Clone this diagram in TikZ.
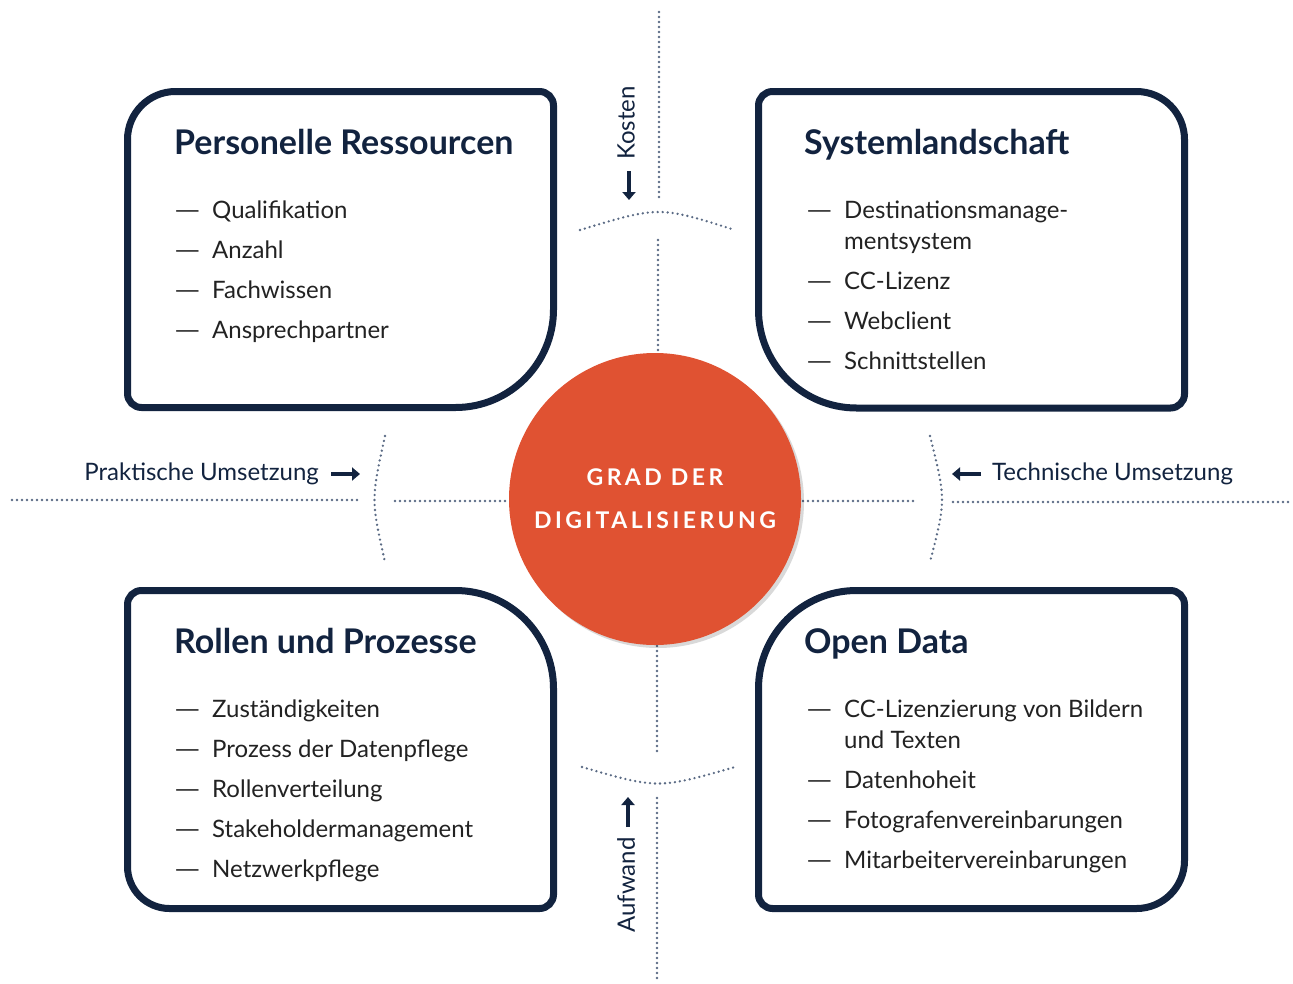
\documentclass[tikz,border=0pt]{standalone}
\usepackage{fontspec}
\usepackage{graphicx}
\setmainfont{Lato}
\newfontfamily\spacedfont[LetterSpace=15]{Lato}
\usetikzlibrary{arrows.meta,shadows}
\definecolor{navy}{HTML}{12233F}
\definecolor{ink}{HTML}{222222}
\definecolor{dotgrey}{HTML}{5A6A84}
\definecolor{orangered}{HTML}{E05232}
\newcommand{\dashmark}{\makebox[38pt][l]{\scalebox{1.4}[1]{—}}}
\newcommand{\itemrows}[1]{\begin{tabular}[t]{@{}l@{}l@{}}#1\end{tabular}}

\begin{document}
\begin{tikzpicture}[x=1pt,y=-1pt]
\tikzstyle{panel}=[draw=navy,line width=7pt]
\tikzstyle{title}=[anchor=base west,inner sep=0pt,text=navy,font=\fontsize{34}{40}\selectfont\bfseries]
\tikzstyle{itemlist}=[anchor=base west,inner sep=0pt,text=ink,font=\fontsize{24}{31}\selectfont]
\tikzstyle{axis}=[draw=dotgrey,line width=2.6pt,dash pattern=on 0pt off 5pt,line cap=round]
\tikzstyle{axislabel}=[inner sep=0pt,text=navy,font=\fontsize{24}{28}\selectfont]
\tikzstyle{pointer}=[draw=navy,line width=3.2pt,-{Triangle[length=8pt,width=13pt]}]

\useasboundingbox (0,0) rectangle (1293,983);

\draw[axis] (659,12) -- (659,198);
\draw[axis] (580,230) .. controls (659,206) .. (735,230);
\draw[axis] (658,240) -- (658,352);
\draw[axis] (657,646) -- (657,755);
\draw[axis] (582,767) .. controls (658,789) .. (735,767);
\draw[axis] (657,798) -- (657,978);
\draw[axis] (12,500) -- (361,500);
\draw[axis] (385,436) .. controls (371,500) .. (385,562);
\draw[axis] (395,501) -- (508,501);
\draw[axis] (803,501) -- (913,501);
\draw[axis] (930,436) .. controls (946,500) .. (930,562);
\draw[axis] (953,502) -- (1290,502);

\draw[panel] (340,91.5) [rounded corners=14pt] -- (553.5,91.5) [rounded corners=98pt] -- (553.5,407.5) [rounded corners=14pt] -- (127.5,407.5) [rounded corners=48pt] -- (127.5,91.5) -- cycle;
\draw[panel] (970,91.5) [rounded corners=48pt] -- (1184.5,91.5) [rounded corners=14pt] -- (1184.5,408) [rounded corners=98pt] -- (758.5,408) [rounded corners=14pt] -- (758.5,91.5) -- cycle;
\draw[panel] (340,590.5) [rounded corners=98pt] -- (553.5,590.5) [rounded corners=14pt] -- (553.5,908.5) [rounded corners=42pt] -- (127.5,908.5) [rounded corners=14pt] -- (127.5,590.5) -- cycle;
\draw[panel] (970,590.5) [rounded corners=14pt] -- (1184.5,590.5) [rounded corners=48pt] -- (1184.5,908.5) [rounded corners=14pt] -- (758.5,908.5) [rounded corners=98pt] -- (758.5,590.5) -- cycle;

\draw (174,154) node (prtitle) [title] {Personelle Ressourcen};
\draw (174,218) node (prlist) [itemlist] {\itemrows{\dashmark & Qualifikation\\[9pt] \dashmark & Anzahl\\[9pt] \dashmark & Fachwissen\\[9pt] \dashmark & Ansprechpartner}};

\draw (804,154) node (sltitle) [title] {Systemlandschaft};
\draw (806,218) node (sllist) [itemlist] {\itemrows{\dashmark & Destinationsmanage-\\ & mentsystem\\[9pt] \dashmark & CC-Lizenz\\[9pt] \dashmark & Webclient\\[9pt] \dashmark & Schnittstellen}};

\draw (174,653) node (rptitle) [title] {Rollen und Prozesse};
\draw (174,717) node (rplist) [itemlist] {\itemrows{\dashmark & Zuständigkeiten\\[9pt] \dashmark & Prozess der Datenpflege\\[9pt] \dashmark & Rollenverteilung\\[9pt] \dashmark & Stakeholdermanagement\\[9pt] \dashmark & Netzwerkpflege}};

\draw (804,653) node (odtitle) [title] {Open Data};
\draw (806,717) node (odlist) [itemlist] {\itemrows{\dashmark & CC-Lizenzierung von Bildern\\ & und Texten\\[9pt] \dashmark & Datenhoheit\\[9pt] \dashmark & Fotografenvereinbarungen\\[9pt] \dashmark & Mitarbeitervereinbarungen}};

\draw (655,499) node (grad) [circle,fill=orangered,minimum size=292pt,inner sep=0pt,
  drop shadow={shadow xshift=3pt,shadow yshift=-3pt,fill=black,opacity=.15},
  text=white,align=center,font=\spacedfont\bfseries\fontsize{23}{43}\selectfont] {GRAD DER\\DIGITALISIERUNG};

\draw (626,123) node (kosten) [axislabel,rotate=90] {Kosten};
\draw (626,885) node (aufwand) [axislabel,rotate=90] {Aufwand};
\draw (319,480) node (praktisch) [axislabel,anchor=base east] {Praktische Umsetzung};
\draw (992,480) node (technisch) [axislabel,anchor=base west] {Technische Umsetzung};

\coordinate (kostenfrom) at (629,171);
\coordinate (kostento) at (629,200);
\coordinate (aufwandfrom) at (628,827);
\coordinate (aufwandto) at (628,797);
\coordinate (praktischfrom) at (331,474);
\coordinate (praktischto) at (360,474);
\coordinate (technischfrom) at (981,474);
\coordinate (technischto) at (952,474);
\draw[pointer] (kostenfrom) -- (kostento);
\draw[pointer] (aufwandfrom) -- (aufwandto);
\draw[pointer] (praktischfrom) -- (praktischto);
\draw[pointer] (technischfrom) -- (technischto);
\end{tikzpicture}
\end{document}
